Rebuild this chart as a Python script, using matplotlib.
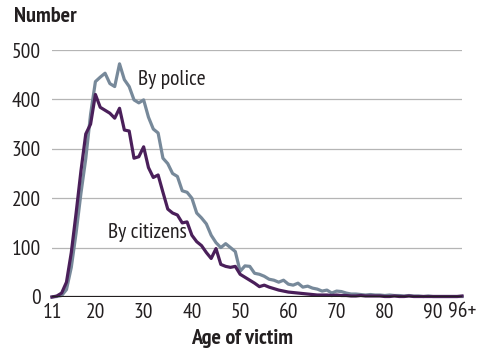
import matplotlib
matplotlib.use('Agg')
import matplotlib.pyplot as plt

plt.rcParams['font.family'] = ['PT Sans Narrow', 'DejaVu Sans']

# ages 11 .. 96+ (last bin is 96 and over)
ages = list(range(11, 97))

by_citizens = [
    0, 2, 8, 30, 90, 170, 255, 330, 350, 410,          # 11-20
    384, 378, 372, 362, 382, 338, 336, 281, 284, 304,  # 21-30
    262, 242, 247, 212, 178, 170, 166, 150, 152, 125,  # 31-40
    112, 104, 90, 78, 98, 66, 62, 60, 62, 46,          # 41-50
    40, 34, 28, 21, 24, 20, 17, 14, 12, 10,            # 51-60
    9, 8, 7, 6, 5, 4, 4, 4, 3, 4,                      # 61-70
    3, 3, 2, 2, 3, 2, 2, 2, 2, 1,                      # 71-80
    1, 2, 1, 1, 2, 1, 1, 1, 1, 1,                      # 81-90
    1, 1, 1, 1, 1, 2,                                  # 91-96+
]

by_police = [
    0, 1, 3, 15, 60, 130, 210, 280, 370, 436,          # 11-20
    445, 453, 432, 426, 472, 440, 426, 399, 393, 399,  # 21-30
    364, 340, 332, 281, 270, 250, 244, 215, 212, 200,  # 31-40
    170, 160, 148, 125, 110, 100, 108, 100, 92, 52,    # 41-50
    63, 62, 48, 46, 42, 36, 34, 30, 34, 26,            # 51-60
    24, 28, 20, 22, 18, 16, 12, 14, 8, 12,             # 61-70
    11, 8, 6, 6, 5, 4, 5, 4, 4, 3,                     # 71-80
    4, 3, 3, 2, 3, 2, 2, 1, 2, 1,                      # 81-90
    1, 1, 1, 1, 1, 1,                                  # 91-96+
]

xtick_pos = [11, 20, 30, 40, 50, 60, 70, 80, 90, 96]
xtick_lab = ['11', '20', '30', '40', '50', '60', '70', '80', '90', '96+']
ytick_pos = [0, 100, 200, 300, 400, 500]

purple = '#4a1f5a'
grey = '#77899a'
ink = '#231f20'

fig = plt.figure(figsize=(4.93, 3.51), dpi=100)
ax = fig.add_axes([52/493, 54/351, 410/493, 247/351])

for y in ytick_pos[1:]:
    ax.axhline(y, color='#b5b5b5', lw=0.9, zorder=1)

ax.plot(ages, by_police, color=grey, lw=2.3, zorder=3, clip_on=False)
ax.plot(ages, by_citizens, color=purple, lw=2.3, zorder=4, clip_on=False)
ax.axhline(0, color=ink, lw=1.6, zorder=5)

ax.set_xlim(11, 96)
ax.set_ylim(0, 500)
ax.set_xticks(xtick_pos)
ax.set_xticklabels(xtick_lab)
ax.set_yticks(ytick_pos)
ax.tick_params(length=0, labelsize=15.5, colors=ink)
ax.tick_params(axis='y', pad=8)
ax.tick_params(axis='x', pad=4)
for s in ax.spines.values():
    s.set_visible(False)

ax.text(28.8, 440, 'By police', fontsize=15.5, color=ink, va='center', ha='left')
ax.text(22.6, 130, 'By citizens', fontsize=15.5, color=ink, va='center', ha='left')

fig.text(14/493, 1 - 17/351, 'Number', fontsize=16, fontweight='bold',
         color=ink, va='center', ha='left')
fig.text(242/493, 1 - 338/351, 'Age of victim', fontsize=16, fontweight='bold',
         color=ink, va='center', ha='center')

fig.savefig('out.png', dpi=100)
